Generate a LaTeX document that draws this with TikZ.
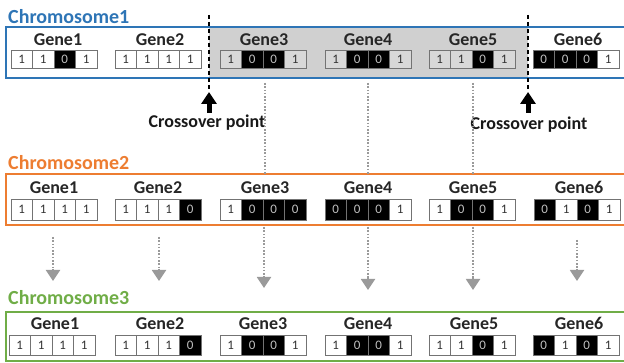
\documentclass[tikz,border=0pt]{standalone}
\usepackage{fontspec}
\setmainfont{Carlito}
\usetikzlibrary{arrows.meta,calc}
\definecolor{cblue}{HTML}{2E75B6}
\definecolor{corange}{HTML}{ED7D31}
\definecolor{cgreen}{HTML}{70AD47}
\definecolor{regiongray}{HTML}{D0D0D0}
\definecolor{cellgray}{HTML}{D8D8D8}
\definecolor{dotgray}{HTML}{9A9A9A}
\begin{document}
\begin{tikzpicture}[x=1pt,y=-1pt,
  chromtitle/.style={anchor=base west,inner sep=0pt,font=\fontsize{20}{20}\selectfont\bfseries},
  genelabel/.style={anchor=base,inner sep=0pt,font=\fontsize{18}{18}\selectfont\bfseries,text=black!85},
  crosslabel/.style={anchor=base,inner sep=0pt,font=\fontsize{18}{18}\selectfont\bfseries,text=black!90},
  cellbase/.style={draw=black!55,line width=0.8pt,minimum width=21.5pt,inner sep=0pt,font=\fontsize{13}{13}\selectfont},
  bit1w/.style={cellbase,fill=white,text=black!80},
  bit1g/.style={cellbase,fill=cellgray,text=black!80},
  bit0w/.style={cellbase,fill=black,text=black!25},
  bit0g/.style={cellbase,fill=black,text=black!25},
  chrombox/.style={line width=1.6pt},
  cutline/.style={black,line width=1.3pt,dash pattern=on 4pt off 3pt},
  cutarrow/.style={black,line width=5pt,-{Triangle[width=15pt,length=12pt]}},
  dotline/.style={dotgray,line width=1.9pt,dash pattern=on 1.6pt off 1.7pt},
  dottip/.style={dotgray,line width=1.9pt,-{Triangle[width=14pt,length=11pt]}}
]
\useasboundingbox (0,0) rectangle (624,363);

% ---- Chromosome 1 ----
\fill[regiongray] (209,27) rectangle (528,78);
\draw[chrombox,cblue] (6,27) rectangle (632,78);
\node[chromtitle,text=cblue] (t1) at (8,24) {Chromosome1};
\foreach \g/\lx/\bx/\s/\a/\b/\c/\d in {
  1/58/11/w/1/1/0/1, 2/160/115/w/1/1/1/1, 3/264/220/g/1/0/0/1,
  4/368/325/g/1/0/0/1, 5/473/429/g/1/1/0/1, 6/578/533/w/0/0/0/1}{
  \node[genelabel] (c1g\g) at (\lx,46) {Gene\g};
  \foreach \v [count=\i] in {\a,\b,\c,\d}{
    \node[bit\v\s,minimum height=18pt] (c1g\g b\i) at ({\bx+(\i-0.5)*21.5},59.5) {\v};
  }
}

% crossover points
\coordinate (cutA top) at (209,15);
\coordinate (cutA bot) at (209,90);
\coordinate (cutB top) at (528,15);
\coordinate (cutB bot) at (528,90);
\draw[cutline] (cutA top) -- (cutA bot);
\draw[cutline] (cutB top) -- (cutB bot);
\node[crosslabel] (crossA) at (207,128) {Crossover point};
\node[crosslabel] (crossB) at (529,130) {Crossover point};
\coordinate (arrA) at (209,92);
\coordinate (arrB) at (528,92);
\coordinate (arrAs) at (209,113);
\coordinate (arrBs) at (528,113);
\draw[cutarrow] (arrAs) -- (arrA);
\draw[cutarrow] (arrBs) -- (arrB);

% ---- Chromosome 2 ----
\draw[chrombox,corange] (6,174) rectangle (632,225);
\node[chromtitle,text=corange] (t2) at (8,170) {Chromosome2};
\foreach \g/\lx/\bx/\s/\a/\b/\c/\d in {
  1/54/11/w/1/1/1/1, 2/158/115/w/1/1/1/0, 3/265/220/w/1/0/0/0,
  4/368/325/w/0/0/0/1, 5/473/429/w/1/0/0/1, 6/579/534/w/0/1/0/1}{
  \node[genelabel] (c2g\g) at (\lx,194) {Gene\g};
  \foreach \v [count=\i] in {\a,\b,\c,\d}{
    \node[bit\v\s,minimum height=21pt] (c2g\g b\i) at ({\bx+(\i-0.5)*21.5},209.5) {\v};
  }
}

% ---- Chromosome 3 ----
\draw[chrombox,cgreen] (6,312) rectangle (632,361);
\node[chromtitle,text=cgreen] (t3) at (8,305) {Chromosome3};
\foreach \g/\lx/\bx/\s/\a/\b/\c/\d in {
  1/55/9/w/1/1/1/1, 2/160/115/w/1/1/1/0, 3/263/220/w/1/0/0/1,
  4/368/325/w/1/0/0/1, 5/474/429/w/1/1/0/1, 6/579/533/w/0/1/0/1}{
  \node[genelabel] (c3g\g) at (\lx,330) {Gene\g};
  \foreach \v [count=\i] in {\a,\b,\c,\d}{
    \node[bit\v\s,minimum height=20pt] (c3g\g b\i) at ({\bx+(\i-0.5)*21.5},345) {\v};
  }
}

% ---- dotted links C1 -> C2 ----
\foreach \x/\n in {265/3,368/4,473/5}{
  \coordinate (d1s\n) at (\x,83);
  \coordinate (d1e\n) at (\x,174);
  \draw[dotline] (d1s\n) -- (d1e\n);
}
% ---- dotted arrows C2 -> C3 ----
\foreach \x/\ys/\ye/\n in {53/237/281/1,159/237/281/2,264/227/288/3,368/227/290/4,473/227/290/5,577/240/281/6}{
  \coordinate (d2s\n) at (\x,\ys);
  \coordinate (d2e\n) at (\x,\ye);
  \coordinate (d2m\n) at ($(d2e\n)+(0,-12)$);
  \draw[dotline] (d2s\n) -- (d2m\n);
  \draw[dottip] (d2m\n) -- (d2e\n);
}
\end{tikzpicture}
\end{document}
